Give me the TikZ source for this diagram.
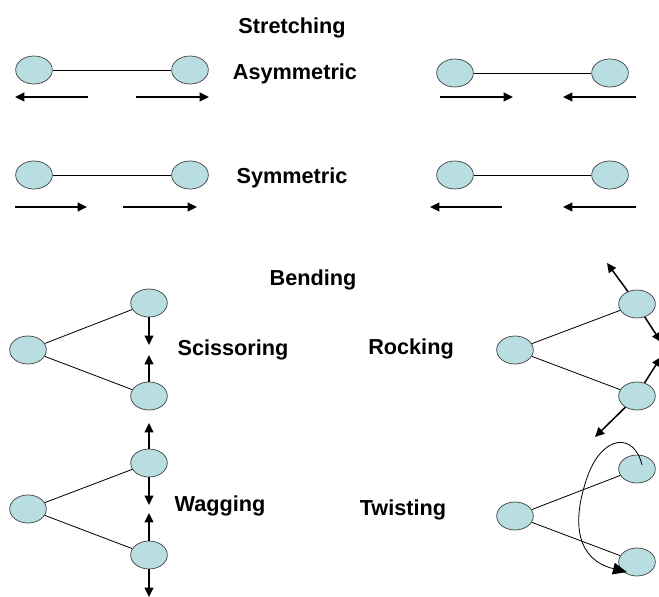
\documentclass[tikz,border=0pt]{standalone}
\usepackage{fontspec}
\setmainfont{Liberation Sans}
\usetikzlibrary{shapes.geometric,arrows.meta}
\definecolor{atomfill}{RGB}{184,222,226}
\begin{document}
\begin{tikzpicture}[x=0.03cm,y=-0.03cm,>={Triangle[length=8pt,width=7.5pt]},
  atom/.style={ellipse,draw=black!75,fill=atomfill,minimum width=1.1cm,minimum height=0.84cm,inner sep=0pt,line width=0.6pt},
  bond/.style={line width=0.7pt},
  push/.style={->,line width=1.3pt},
  lbl/.style={font=\fontsize{18.5}{21}\selectfont\bfseries}]
\useasboundingbox (0,0) rectangle (659,597);
\clip (0,0) rectangle (659,597);
% stretching
\node[lbl] (stretch) at (292,28) {Stretching};
\node[lbl] (asym) at (295,74) {Asymmetric};
\node[lbl] (sym) at (292,178) {Symmetric};
\node[atom] (a1) at (34,70) {};
\node[atom] (a2) at (190,70) {};
\draw[bond] (a1)--(a2);
\draw[push] (88,97)--(15,97);
\draw[push] (136,97)--(209,97);
\node[atom] (a3) at (455,73) {};
\node[atom] (a4) at (610,73) {};
\draw[bond] (a3)--(a4);
\draw[push] (440,97)--(513,97);
\draw[push] (636,97)--(563,97);
\node[atom] (b1) at (34,175) {};
\node[atom] (b2) at (190,175) {};
\draw[bond] (b1)--(b2);
\draw[push] (15,207)--(87,207);
\draw[push] (123,207)--(197,207);
\node[atom] (b3) at (455,175) {};
\node[atom] (b4) at (610,175) {};
\draw[bond] (b3)--(b4);
\draw[push] (502,207)--(430,207);
\draw[push] (636,207)--(563,207);
% bending
\node[lbl] (bend) at (313,280) {Bending};
\node[lbl] (sciss) at (233,350) {Scissoring};
\node[lbl] (wag) at (220,506) {Wagging};
\node[lbl] (rock) at (411,349) {Rocking};
\node[lbl] (twist) at (403,510) {Twisting};
% scissoring
\node[atom] (s0) at (28,350) {};
\node[atom] (s1) at (149,303) {};
\node[atom] (s2) at (149,396) {};
\draw[bond] (s0)--(s1) (s0)--(s2);
\draw[push] (s1.south)--(149,345);
\draw[push] (s2.north)--(149,355);
% wagging
\node[atom] (w0) at (28,509) {};
\node[atom] (w1) at (149,463) {};
\node[atom] (w2) at (149,555) {};
\draw[bond] (w0)--(w1) (w0)--(w2);
\draw[push] (w1.north)--(149,423);
\draw[push] (w1.south)--(149,505);
\draw[push] (w2.north)--(149,513);
\draw[push] (w2.south)--(149,597);
% rocking
\node[atom] (r0) at (515,350) {};
\node[atom] (r1) at (637,304) {};
\node[atom] (r2) at (637,396) {};
\draw[bond] (r0)--(r1) (r0)--(r2);
\draw[push] (r1.126)--(607,263);
\draw[push] (r1.-59)--(661,342);
\draw[push] (r2.60)--(661,357);
\draw[push] (r2.224)--(595,437);
% twisting
\node[atom] (t0) at (515,516) {};
\node[atom] (t1) at (637,469) {};
\node[atom] (t2) at (637,562) {};
\draw[bond] (t0)--(t1) (t0)--(t2);
\draw[bond,-{Triangle[length=12pt,width=10pt]}] (642,465) .. controls (634,432) and (603,435) .. (588,475)
  .. controls (570,525) and (578,560) .. (627,572);
\end{tikzpicture}
\end{document}
